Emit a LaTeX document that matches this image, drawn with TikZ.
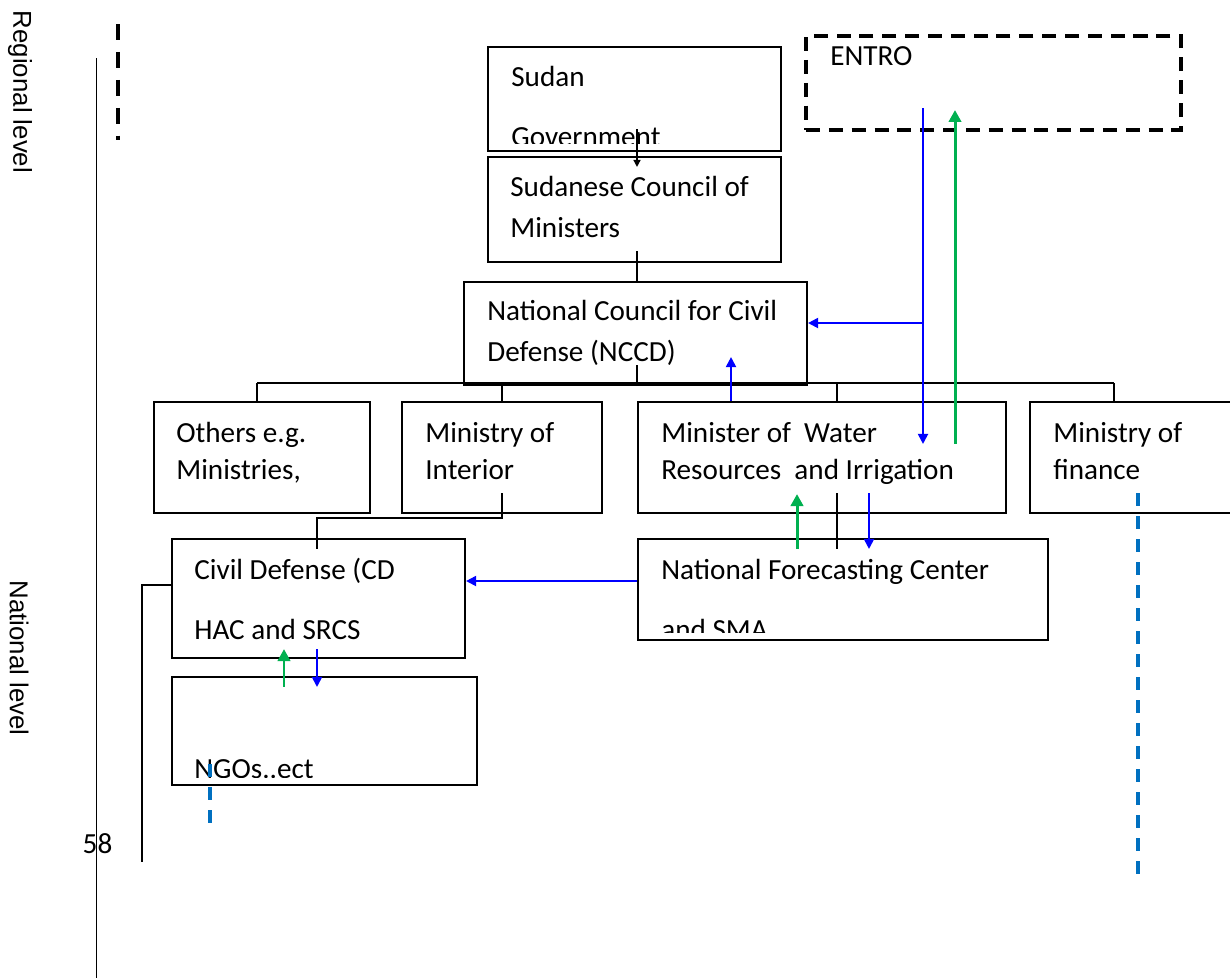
\documentclass[tikz,border=0pt]{standalone}
\usepackage{fontspec}
\setmainfont{Carlito}
\newfontfamily\sidefont{Liberation Sans}
\usetikzlibrary{arrows.meta,calc,fit}
\definecolor{flowblue}{HTML}{0000FF}
\definecolor{flowgreen}{HTML}{00B050}
\definecolor{linkblue}{HTML}{0070C0}
\tikzset{
  box/.style={
    draw=black,
    line width=1.2pt,
    inner sep=0pt
  },
  entrobox/.style={
    box,
    line width=2.3pt,
    dash pattern=on 8pt off 5pt
  },
  boxtext/.style={
    anchor=base west,
    inner sep=0pt,
    align=left,
    text=black,
    font=\fontsize{16.6}{22.8}\selectfont
  },
  rowtext/.style={
    boxtext,
    font=\fontsize{16.6}{21}\selectfont
  },
  widetext/.style={
    boxtext,
    font=\fontsize{16.6}{33.6}\selectfont
  },
  sidelabel/.style={
    rotate=-90,
    inner sep=0pt,
    font=\sidefont\fontsize{14.7}{17}\selectfont
  },
  link/.style={
    draw=black,
    line width=0.8pt
  },
  linkarrow/.style={
    link,
    -{Triangle[length=4pt,width=4pt]}
  },
  bluearrow/.style={
    draw=flowblue,
    line width=1.1pt,
    -{Triangle[length=5.7pt,width=5.7pt]}
  },
  greenarrow/.style={
    draw=flowgreen,
    line width=1.7pt,
    -{Triangle[length=6.8pt,width=7pt]}
  },
  bluedash/.style={
    draw=linkblue,
    line width=2pt,
    dash pattern=on 7.4pt off 5.7pt
  },
  leveldash/.style={
    draw=black,
    line width=2.3pt,
    dash pattern=on 9.1pt off 6.8pt
  }
}

\begin{document}
\begin{tikzpicture}[x=0.02cm,y=-0.02cm]
  \clip (0,0) rectangle (1230,978);

  % Level marks
  \draw[link] (96.5,58) -- (96.5,978);
  \draw[leveldash] (118,24) -- (118,140);
  \node[sidelabel] (regional) at (20,92) {Regional level};
  \node[sidelabel] (national) at (19,658) {National level};
  \node[boxtext, anchor=base] (page) at (97.5,853) {58};

  % Boxes
  \node[box, fit={(488,47) (781,151)}] (gov) {};
  \node[box, fit={(488,157) (781,262)}] (council) {};
  \node[box, fit={(464,282) (807,385)}] (nccd) {};
  \node[box, fit={(154,402) (370,513)}] (others) {};
  \node[box, fit={(402,402) (602,513)}] (interior) {};
  \node[box, fit={(638,402) (1006,513)}] (water) {};
  \node[box, fit={(1030,402) (1240,513)}] (finance) {};
  \node[box, fit={(172,539) (465,658)}] (civilDef) {};
  \node[box, fit={(638,539) (1048,640)}] (forecast) {};
  \node[box, fit={(172,677) (477,785)}] (ngos) {};
  \node[entrobox, fit={(806,36) (1181,130)}] (entro) {};

  % Box texts (placed at the baseline of the last line)
  \node[boxtext] (entroText) at (830,65) {ENTRO};
  \begin{scope}
    \clip (gov.north west) rectangle ([shift={(0,-9)}]gov.south east);
    \node[widetext] (govText) at (511,146) {Sudan\\Government};
  \end{scope}
  \node[boxtext] (councilText) at (510,237) {Sudanese Council of\\Ministers};
  \node[boxtext] (nccdText) at (487,361) {National Council for Civil\\Defense (NCCD)};
  \node[rowtext] (othersText) at (176,479) {Others e.g.\\Ministries,};
  \node[rowtext] (interiorText) at (425,479) {Ministry of\\Interior};
  \node[rowtext] (waterText) at (661,479) {Minister of\ \ Water\\Resources\ \ and Irrigation};
  \node[rowtext] (financeText) at (1053,479) {Ministry of\\finance};
  \node[widetext] (civilDefText) at (194,639) {Civil Defense (CD\\HAC and SRCS};
  \begin{scope}
    \clip (forecast.north west) rectangle ([shift={(0,-9)}]forecast.south east);
    \node[widetext] (forecastText) at (661,639) {National Forecasting Center\\and SMA};
  \end{scope}
  \begin{scope}
    \clip (ngos.north west) rectangle ([shift={(0,-9)}]ngos.south east);
    \node[boxtext] (ngosText) at (194,778) {NGOs..ect};
  \end{scope}

  % Hierarchy
  \draw[linkarrow] ([shift={(2.5,-23)}]gov.south) -- ([shift={(2.5,11)}]council.north);
  \draw[link] ([shift={(2.5,-12)}]council.south) -- ([shift={(1.5,0)}]nccd.north);
  \coordinate (busL) at (257,383);
  \coordinate (busI) at (502,383);
  \coordinate (busN) at (637,383);
  \coordinate (busW) at (837,383);
  \coordinate (busR) at (1114,383);
  \draw[link] (busL) -- (busR);
  \draw[link] (busL) -- (busL |- others.north);
  \draw[link] (busI) -- (busI |- interior.north);
  \draw[link] (busN) -- ++(0,-18);
  \draw[link] (busW) -- (busW |- water.north);
  \draw[link] (busR) -- (busR |- finance.north);
  \draw[link] ([shift={(0,-21)}]interior.south) -- ++(0,25) -| ([shift={(-1.5,11)}]civilDef.north);
  \draw[link] ([shift={(0,-13.5)}]civilDef.west) -| ++(-29,277);
  \draw[link] ([shift={(15,-21)}]water.south) -- ([shift={(-6,11)}]forecast.north);

  % Warning flow
  \coordinate (split) at (923,323);
  \draw[bluearrow] (split |- 0,108) -- ([shift={(101,43)}]water.north);
  \draw[bluearrow] (split) -- (split -| nccd.east);
  \draw[greenarrow] ([shift={(133,43)}]water.north) -- ([shift={(-38.5,-22)}]entro.south);
  \draw[bluearrow] ([shift={(-91,0)}]water.north) -- ([shift={(95.5,-29)}]nccd.south);
  \draw[greenarrow] ([shift={(-46,11)}]forecast.north) -- ([shift={(-25,-20)}]water.south);
  \draw[bluearrow] ([shift={(47,-21)}]water.south) -- ([shift={(26,11)}]forecast.north);
  \draw[bluearrow] ([shift={(0,-8.5)}]forecast.west) -- ([shift={(0,-17.5)}]civilDef.east);
  \draw[greenarrow] ([shift={(-40.5,11)}]ngos.north) -- ([shift={(-34.5,-10)}]civilDef.south);
  \draw[bluearrow] ([shift={(-1.5,-10)}]civilDef.south) -- ([shift={(-7.5,11)}]ngos.north);

  % Dashed links
  \draw[bluedash] ([shift={(-114.5,-22)}]ngos.south) -- ([shift={(-114.5,38)}]ngos.south);
  \draw[bluedash] ([shift={(3,-21)}]finance.south) -- ([shift={(3,367)}]finance.south);
\end{tikzpicture}
\end{document}
